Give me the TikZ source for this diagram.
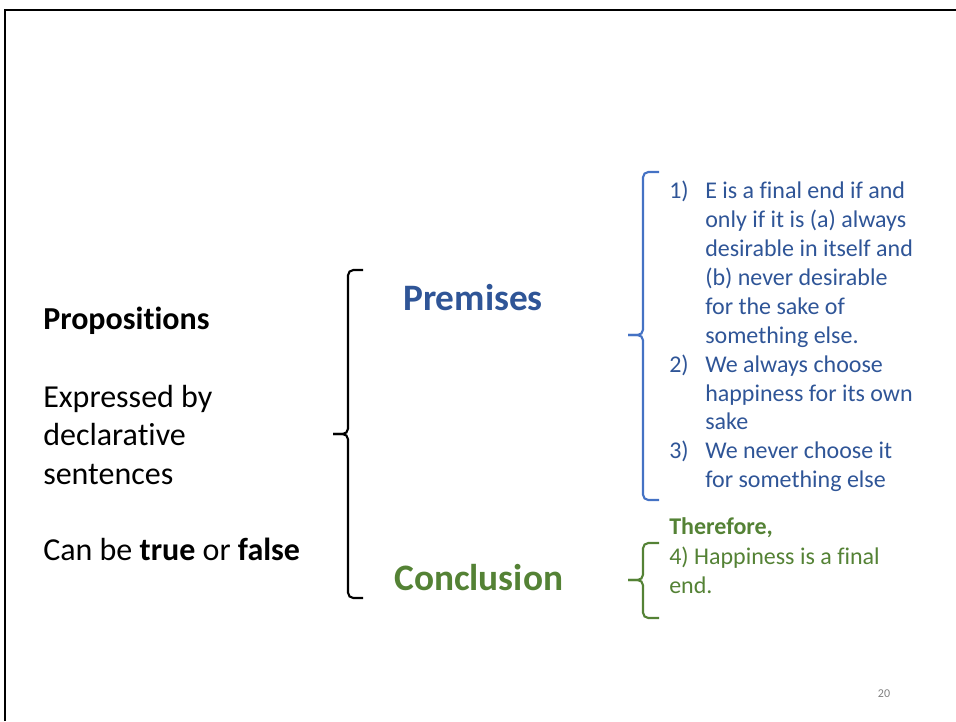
\documentclass[tikz,border=0pt]{standalone}
\usepackage{fontspec}
\setmainfont{Carlito}[Ligatures=NoCommon]
\definecolor{pblue}{HTML}{2F5597}
\definecolor{bblue}{HTML}{4472C4}
\definecolor{cgreen}{HTML}{548235}
\begin{document}
\begin{tikzpicture}[x=0.75pt,y=-0.75pt,
  lt/.style={anchor=base west, inner sep=0pt, font=\fontsize{24}{29}\selectfont},
  bt/.style={anchor=base west, inner sep=0pt, text=pblue, font=\fontsize{18}{22}\selectfont},
  gt/.style={anchor=base west, inner sep=0pt, text=cgreen, font=\fontsize{18}{22}\selectfont},
  bracestroke/.style={line width=1.6pt, rounded corners=4pt}]
\useasboundingbox (0,0) rectangle (956,721);
\draw[line width=1.5pt] (5,721) -- (5,10) -- (956,10);

% left text
\node[lt] (prop) at (43,329) {\textbf{Propositions}};
\node[lt] (ex1) at (43,407) {Expressed by};
\node[lt] (ex2) at (43,445) {declarative};
\node[lt] (ex3) at (43,484) {sentences};
\node[lt] (tf) at (43,560) {Can be \textbf{true} or \textbf{false}};

% black brace
\draw[bracestroke] (363,270) -| (348,434) -- (333,434);
\draw[bracestroke] (333,434) -- (348,434) |- (363,598);

% headings
\node[anchor=base west, inner sep=0pt, text=pblue, font=\fontsize{28}{34}\selectfont\bfseries] (prem) at (403,310) {Premises};
\node[anchor=base west, inner sep=0pt, text=cgreen, font=\fontsize{28}{34}\selectfont\bfseries] (concl) at (394,590) {Conclusion};

% blue brace
\draw[bracestroke, bblue] (659,172) -| (643,335) -- (628,335);
\draw[bracestroke, bblue] (628,335) -- (643,335) |- (659,500);

% premises list
\node[bt] (n1) at (669,198) {1)};
\node[bt] (l1) at (705,198) {E is a final end if and};
\node[bt] (l2) at (705,227) {only if it is (a) always};
\node[bt] (l3) at (705,256) {desirable in itself and};
\node[bt] (l4) at (705,285) {(b) never desirable};
\node[bt] (l5) at (705,314) {for the sake of};
\node[bt] (l6) at (705,343) {something else.};
\node[bt] (n2) at (669,372) {2)};
\node[bt] (l7) at (705,372) {We always choose};
\node[bt] (l8) at (705,401) {happiness for its own};
\node[bt] (l9) at (705,429) {sake};
\node[bt] (n3) at (669,458) {3)};
\node[bt] (l10) at (705,458) {We never choose it};
\node[bt] (l11) at (705,487) {for something else};

% conclusion
\node[gt] (there) at (669,534) {\textbf{Therefore,}};
\node[gt] (c1) at (669,564) {4) Happiness is a final};
\node[gt] (c2) at (669,593) {end.};

% green brace
\draw[bracestroke, cgreen] (659,543) -| (643,580) -- (628,580);
\draw[bracestroke, cgreen] (628,580) -- (643,580) |- (659,618);

% page number
\node[anchor=base, inner sep=0pt, text=gray, font=\fontsize{9}{11}\selectfont] (pg) at (884,697) {20};
\end{tikzpicture}
\end{document}
